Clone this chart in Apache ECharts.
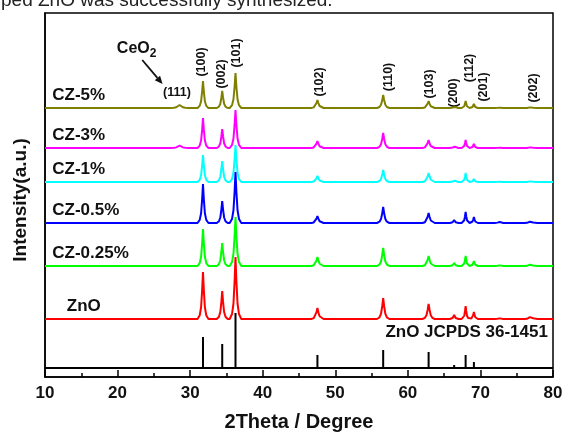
<!DOCTYPE html>
<html>
<head>
<meta charset="utf-8">
<script src="https://cdn.jsdelivr.net/npm/echarts@6/dist/echarts.min.js"></script>
<style>
  html, body { margin: 0; padding: 0; background: #fff; }
  #chart { width: 563px; height: 432px; }
</style>
</head>
<body>
<div id="chart"></div>
<script>
  // peak positions (2theta), CeO2 (111) first, then ZnO reflections
  const peakPos = [28.55, 31.77, 34.42, 36.25, 47.54, 56.60, 62.86, 66.38, 67.96, 69.10, 72.56, 76.95];
  // half width of each peak foot, degrees
  const peakWidth = [1.3, 0.75, 0.75, 0.8, 0.85, 0.85, 0.85, 0.6, 0.55, 0.55, 0.6, 0.9];
  const samples = ['CZ-5%', 'CZ-3%', 'CZ-1%', 'CZ-0.5%', 'CZ-0.25%', 'ZnO'];
  const colors = ['#808000', '#ff00ff', '#00ffff', '#0000ff', '#00ff00', '#ff0000'];
  // baseline of each trace (stacked offsets, a.u.)
  const offsets = [269, 229, 195, 154, 111, 58];
  // peak heights, same order as peakPos
  const cz5 = [3, 27, 17, 35, 8, 13, 7, 1.5, 7, 4, 0.5, 1];
  const cz3 = [2.5, 30, 19, 38, 7, 15, 8, 2, 8, 4, 0.5, 1];
  const cz1 = [0, 27, 21, 37, 6, 12, 9, 2, 9, 3, 0.5, 1];
  const cz05 = [0, 39, 22, 51, 7, 16, 10, 3, 11, 6, 1.5, 2];
  const cz025 = [0, 37, 23, 49, 9, 18, 10, 3, 10, 5, 1, 2];
  const zno = [0, 47, 28, 62, 11, 21, 15, 4, 13, 7, 1, 3];
  const heights = [cz5, cz3, cz1, cz05, cz025, zno];
  // JCPDS 36-1451 reference sticks
  const stickBase = 9;
  const stickHeights = [0, 31, 24, 55, 13, 18, 16, 3, 13, 6, 2, 2];

  const xTicks = [10, 20, 30, 40, 50, 60, 70, 80];

  // peak labels: text, 2theta of label, pixel y of label centre
  const hkl = [
    ['(100)', 31.63, 62], ['(002)', 34.39, 74], ['(101)', 36.46, 53],
    ['(102)', 47.89, 82], ['(110)', 57.40, 77], ['(103)', 63.05, 84],
    ['(200)', 66.36, 93], ['(112)', 68.56, 68], ['(201)', 70.49, 87],
    ['(202)', 77.38, 88]
  ];

  // peak profile: [fraction of half width, fraction of height]
  const profile = [[-1, 0], [-0.6, 0.08], [-0.35, 0.25], [-0.15, 0.62], [0, 1],
    [0.15, 0.62], [0.35, 0.25], [0.6, 0.08], [1, 0]];

  function buildCurve(h, off) {
    const pts = [[xTicks[0], off]];
    peakPos.forEach((p, i) => {
      if (!h[i]) return;
      profile.forEach(([fx, fy]) => pts.push([p + fx * peakWidth[i], off + fy * h[i]]));
    });
    pts.push([xTicks[xTicks.length - 1], off]);
    return pts;
  }

  function buildSticks() {
    const pts = [[xTicks[0], stickBase]];
    peakPos.forEach((p, i) => {
      if (!stickHeights[i]) return;
      pts.push([p, stickBase], [p, stickBase + stickHeights[i]], [p, stickBase]);
    });
    pts.push([xTicks[xTicks.length - 1], stickBase]);
    return pts;
  }

  const font = "'Liberation Sans', Arial, sans-serif";
  const chart = echarts.init(document.getElementById('chart'), null, { renderer: 'canvas' });

  const series = samples.map((name, i) => ({
    name: name,
    type: 'line',
    data: buildCurve(heights[i], offsets[i]),
    showSymbol: false,
    animation: false,
    lineStyle: { color: colors[i], width: 2 },
    z: 2 + i
  }));
  series.push({
    name: 'JCPDS',
    type: 'line',
    data: buildSticks(),
    showSymbol: false,
    animation: false,
    lineStyle: { color: '#000', width: 2 },
    z: 10
  });

  chart.setOption({
    animation: false,
    grid: {
      left: 45, right: 10, top: 13, bottom: 55,
      outerBoundsMode: 'none',
      containLabel: false,
      show: true, borderColor: '#000', borderWidth: 1.5, backgroundColor: 'transparent'
    },
    xAxis: {
      type: 'value',
      min: 10, max: 80, interval: 10,
      name: '2Theta / Degree',
      nameLocation: 'middle',
      nameGap: 35,
      nameTextStyle: { fontFamily: font, fontWeight: 'bold', fontSize: 20, color: '#111' },
      axisLine: { lineStyle: { color: '#000', width: 1.5 } },
      axisTick: { inside: true, length: 7, lineStyle: { color: '#000', width: 1.5 } },
      minorTick: { show: true, splitNumber: 2, length: 4, lineStyle: { color: '#000', width: 1.5 } },
      axisLabel: { fontFamily: font, fontWeight: 'bold', fontSize: 17, color: '#111', margin: 8 },
      splitLine: { show: false }
    },
    yAxis: {
      type: 'value',
      min: 0, max: 364,
      axisLine: { show: true, lineStyle: { color: '#000', width: 1.5 } },
      axisTick: { show: false },
      axisLabel: { show: false },
      splitLine: { show: false }
    },
    series: series
  });

  // annotations, placed from the axes
  const px = (x, y) => chart.convertToPixel({ gridIndex: 0 }, [x, y]);
  const graphic = [];
  const bold = (size) => `bold ${size}px ${font}`;

  samples.forEach((name, i) => {
    const p = px(name === 'ZnO' ? 13.0 : 11.0, offsets[i] + 12.5);
    graphic.push({
      type: 'text', x: p[0], y: p[1],
      style: { text: name, font: bold(17), fill: '#111', verticalAlign: 'middle', align: 'left' }
    });
  });

  const jc = px(79.3, 45);
  graphic.push({
    type: 'text', x: jc[0], y: jc[1],
    style: { text: 'ZnO JCPDS 36-1451', font: bold(17), fill: '#111', verticalAlign: 'middle', align: 'right' }
  });

  hkl.forEach(([t, x, y]) => {
    const p = px(x, 0);
    graphic.push({
      type: 'text', x: p[0], y: y, rotation: Math.PI / 2,
      style: { text: t, font: bold(12.5), fill: '#111', align: 'center', verticalAlign: 'middle' }
    });
  });

  const p111 = px(28.19, 0);
  graphic.push({
    type: 'text', x: p111[0], y: 93,
    style: { text: '(111)', font: bold(12.5), fill: '#111', align: 'center', verticalAlign: 'middle' }
  });

  // CeO2 label with subscript
  const ce = px(19.9, 0);
  graphic.push({
    type: 'text', x: ce[0], y: 49,
    style: {
      text: '{a|CeO}{b|2}',
      rich: {
        a: { font: bold(16), fill: '#111' },
        b: { font: bold(12), fill: '#111', padding: [10, 0, 0, 0] }
      },
      align: 'left', verticalAlign: 'middle'
    }
  });

  // arrow from label to CeO2 (111) peak
  const a0 = px(23.4, 0), a1 = px(26.2, 0);
  const x0 = a0[0], y0 = 60, x1 = a1[0], y1 = 84;
  const ang = Math.atan2(y1 - y0, x1 - x0);
  const hl = 8, hw = 3.5;
  const bx = x1 - hl * Math.cos(ang), by = y1 - hl * Math.sin(ang);
  graphic.push({
    type: 'line', shape: { x1: x0, y1: y0, x2: bx, y2: by },
    style: { stroke: '#111', lineWidth: 1.8 }
  });
  graphic.push({
    type: 'polygon',
    shape: {
      points: [[x1, y1],
        [bx + hw * Math.sin(ang), by - hw * Math.cos(ang)],
        [bx - hw * Math.sin(ang), by + hw * Math.cos(ang)]]
    },
    style: { fill: '#111' }
  });

  // y axis title
  graphic.push({
    type: 'text', x: 21, y: 200, rotation: Math.PI / 2,
    style: { text: 'Intensity(a.u.)', font: bold(19), fill: '#111', align: 'center', verticalAlign: 'middle' }
  });

  // caption line cut off at the top of the picture
  graphic.push({
    type: 'text', x: 1, y: 10,
    style: { text: 'ped ZnO was successfully synthesized.', font: `19px ${font}`, fill: '#222', align: 'left', verticalAlign: 'bottom' }
  });

  chart.setOption({ graphic: graphic });
</script>
</body>
</html>
